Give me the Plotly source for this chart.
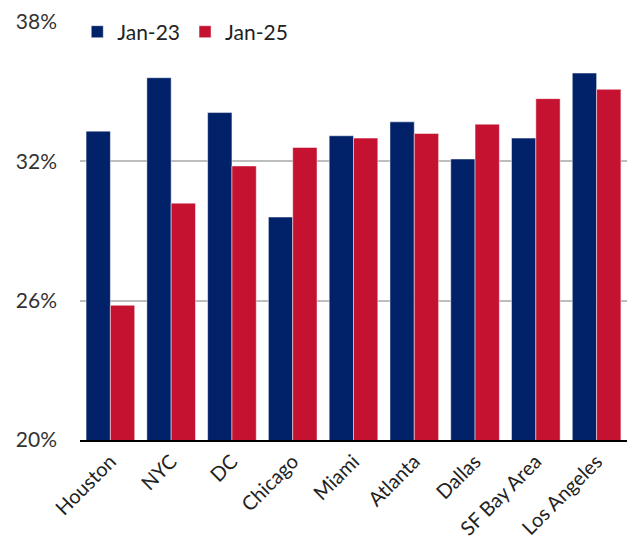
import plotly.graph_objects as go

# Share by metro, two snapshots
cities = ["Houston", "NYC", "DC", "Chicago", "Miami", "Atlanta", "Dallas", "SF Bay Area", "Los Angeles"]
jan23 = [33.3, 35.6, 34.1, 29.6, 33.1, 33.7, 32.1, 33.0, 35.8]
jan25 = [25.8, 30.2, 31.8, 32.6, 33.0, 33.2, 33.6, 34.7, 35.1]
y_ticks = [20, 26, 32, 38]

NAVY = "#012169"
RED = "#C41230"
FONT = "Lato"

fig = go.Figure()
fig.add_trace(go.Bar(
    x=cities, y=jan23, name="Jan-23", marker_color=NAVY,
    marker_line=dict(color="rgba(255,255,255,0.6)", width=0.8),
))
fig.add_trace(go.Bar(
    x=cities, y=jan25, name="Jan-25", marker_color=RED,
    marker_line=dict(color="rgba(255,255,255,0.6)", width=0.8),
))

fig.update_layout(
    width=627, height=546,
    margin=dict(l=80, r=0, t=22, b=106),
    paper_bgcolor="white", plot_bgcolor="white",
    barmode="group", bargap=0.2, bargroupgap=0,
    font=dict(family=FONT, color="#333333"),
    showlegend=True,
    legend=dict(
        orientation="h", x=-0.005, y=1.025, xanchor="left", yanchor="top",
        font=dict(size=21, color="#222222", family=FONT),
        bgcolor="rgba(0,0,0,0)", itemwidth=30, traceorder="normal",
    ),
    xaxis=dict(
        tickangle=-45, tickfont=dict(size=20, family=FONT, color="#222222"),
        showgrid=False, showline=True, linecolor="black", linewidth=2,
        ticks="", automargin=False,
    ),
    yaxis=dict(
        range=[20, 38], tickvals=y_ticks,
        ticktext=[f"{v}%" for v in y_ticks],
        tickfont=dict(size=21, family=FONT, color="#333333"),
        showgrid=True, gridcolor="#bdbdbd", gridwidth=2,
        zeroline=False, showline=False, ticks="", ticklabelstandoff=22,
        automargin=False,
    ),
)

fig.write_html("out.html")
